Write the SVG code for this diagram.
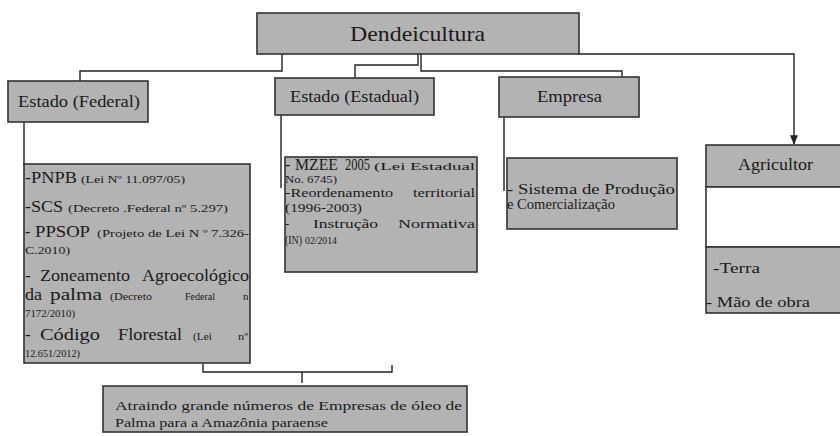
<svg xmlns="http://www.w3.org/2000/svg" width="840" height="436" viewBox="0 0 840 436" font-family="'Liberation Serif', 'DejaVu Serif', serif">
<defs>
<style>
.box{fill:#b3b3b3;stroke:#333;stroke-width:1.6}
.wbox{fill:#fff;stroke:#333;stroke-width:1.6}
.ln{fill:none;stroke:#222;stroke-width:1.4}
.t{font-family:'Liberation Serif','DejaVu Serif',serif;fill:#1a1a1a}
.s{font-size:11px}
</style>
<marker id="arr" viewBox="0 0 10 10" refX="9" refY="5" markerWidth="7" markerHeight="7" orient="auto">
<path d="M0,1 L10,5 L0,9 z" fill="#222"/>
</marker>
</defs>
<rect width="840" height="436" fill="#fff"/>
<g id="connectors">
<polyline class="ln" points="282,54 282,71 80,71 80,81"/>
<polyline class="ln" points="418,54 418,65 355,65 355,78"/>
<polyline class="ln" points="421,54 421,71 622,71 622,77"/>
<polyline class="ln" points="579,54 794,54 794,144" marker-end="url(#arr)"/>
<polyline class="ln" points="24,122 24,166"/>
<polyline class="ln" points="281,115 281,188"/>
<polyline class="ln" points="504,117 504,191"/>
<polyline class="ln" points="203,364 203,372 392,372 392,365"/>
<polyline class="ln" points="302,372 302,383"/>
</g>
<g id="dendeicultura">
<rect class="box" x="257" y="13" width="322" height="41"/>
<text class="t" x="350" y="41" font-size="22" textLength="135" lengthAdjust="spacingAndGlyphs">Dendeicultura</text>
</g>
<g id="estado-federal">
<rect class="box" x="8" y="81" width="140" height="41"/>
<text class="t" x="18" y="107" font-size="17" textLength="122" lengthAdjust="spacingAndGlyphs">Estado (Federal)</text>
</g>
<g id="estado-estadual">
<rect class="box" x="275" y="78" width="159" height="37"/>
<text class="t" x="290" y="102" font-size="17" textLength="129" lengthAdjust="spacingAndGlyphs">Estado (Estadual)</text>
</g>
<g id="empresa">
<rect class="box" x="499" y="77" width="140" height="40"/>
<text class="t" x="537" y="102" font-size="17" textLength="65" lengthAdjust="spacingAndGlyphs">Empresa</text>
</g>
<g id="agricultor">
<rect class="box" x="706" y="145" width="140" height="42"/>
<rect class="wbox" x="706" y="187" width="140" height="60"/>
<rect class="box" x="706" y="247" width="140" height="66"/>
<text class="t" x="738" y="170" font-size="16" textLength="75" lengthAdjust="spacingAndGlyphs">Agricultor</text>
<text class="t" x="713" y="273" font-size="15" textLength="47" lengthAdjust="spacingAndGlyphs">-Terra</text>
<text class="t" x="706" y="307" font-size="15" textLength="104" lengthAdjust="spacingAndGlyphs">- Mão de obra</text>
</g>
<g id="federal-list">
<rect class="box" x="24" y="164" width="226" height="199"/>
<text class="t" font-size="16" y="183"><tspan x="25" textLength="52" lengthAdjust="spacingAndGlyphs">-PNPB</tspan><tspan class="s" x="81" textLength="104" lengthAdjust="spacingAndGlyphs">(Lei Nº 11.097/05)</tspan></text>
<text class="t" font-size="16" y="212"><tspan x="25" textLength="38" lengthAdjust="spacingAndGlyphs">-SCS</tspan><tspan class="s" x="68" textLength="160" lengthAdjust="spacingAndGlyphs">(Decreto .Federal   nº 5.297)</tspan></text>
<text class="t" font-size="16" y="237"><tspan x="25">-</tspan><tspan x="35" textLength="55" lengthAdjust="spacingAndGlyphs">PPSOP</tspan><tspan class="s" x="97" textLength="152" lengthAdjust="spacingAndGlyphs">(Projeto de Lei N º 7.326-</tspan></text>
<text class="t s" x="25" y="254" textLength="45" lengthAdjust="spacingAndGlyphs">C.2010)</text>
<text class="t" font-size="17" y="281"><tspan x="25">-</tspan><tspan x="40" textLength="90" lengthAdjust="spacingAndGlyphs">Zoneamento</tspan><tspan x="142" textLength="107" lengthAdjust="spacingAndGlyphs">Agroecológico</tspan></text>
<text class="t" font-size="17" y="300"><tspan x="25" textLength="17" lengthAdjust="spacingAndGlyphs">da</tspan><tspan x="50" textLength="52" lengthAdjust="spacingAndGlyphs">palma</tspan><tspan class="s" x="110" textLength="42" lengthAdjust="spacingAndGlyphs">(Decreto</tspan><tspan class="s" x="185" textLength="30" lengthAdjust="spacingAndGlyphs">Federal</tspan><tspan class="s" x="243">n</tspan></text>
<text class="t s" x="25" y="317" textLength="50" lengthAdjust="spacingAndGlyphs">7172/2010)</text>
<text class="t" font-size="17" y="340"><tspan x="25">-</tspan><tspan x="40" textLength="60" lengthAdjust="spacingAndGlyphs">Código</tspan><tspan x="118" textLength="64" lengthAdjust="spacingAndGlyphs">Florestal</tspan><tspan class="s" x="193" textLength="19" lengthAdjust="spacingAndGlyphs">(Lei</tspan><tspan class="s" x="238" textLength="10" lengthAdjust="spacingAndGlyphs">nº</tspan></text>
<text class="t s" x="25" y="357" textLength="55" lengthAdjust="spacingAndGlyphs">12.651/2012)</text>
</g>
<g id="estadual-list">
<rect class="box" x="285" y="157" width="192" height="115"/>
<text class="t" font-size="16" y="170"><tspan x="285">-</tspan><tspan x="295" textLength="43" lengthAdjust="spacingAndGlyphs">MZEE</tspan><tspan x="345" textLength="25" lengthAdjust="spacingAndGlyphs">2005</tspan><tspan class="s" x="374" textLength="101" lengthAdjust="spacingAndGlyphs">(Lei Estadual</tspan></text>
<text class="t" font-size="10" x="285" y="183" textLength="52" lengthAdjust="spacingAndGlyphs">No. 6745)</text>
<text class="t" font-size="12" y="197"><tspan x="285" textLength="108" lengthAdjust="spacingAndGlyphs">-Reordenamento</tspan><tspan x="413" textLength="62" lengthAdjust="spacingAndGlyphs">territorial</tspan></text>
<text class="t" font-size="12" x="285" y="212" textLength="77" lengthAdjust="spacingAndGlyphs">(1996-2003)</text>
<text class="t" font-size="13" y="228"><tspan x="285">-</tspan><tspan x="313" textLength="65" lengthAdjust="spacingAndGlyphs">Instrução</tspan><tspan x="398" textLength="77" lengthAdjust="spacingAndGlyphs">Normativa</tspan></text>
<text class="t" font-size="13" y="244"><tspan x="285" textLength="17" lengthAdjust="spacingAndGlyphs">(IN)</tspan><tspan class="s" x="305" textLength="32" lengthAdjust="spacingAndGlyphs">02/2014</tspan></text>
</g>
<g id="empresa-list">
<rect class="box" x="507" y="158" width="170" height="71"/>
<text class="t" x="507" y="194" font-size="15" textLength="168" lengthAdjust="spacingAndGlyphs">- Sistema de Produção</text>
<text class="t" x="507" y="209" font-size="15" textLength="108" lengthAdjust="spacingAndGlyphs">e Comercialização</text>
</g>
<g id="resultado">
<rect class="box" x="103" y="386" width="364" height="46"/>
<text class="t" x="115" y="410" font-size="13" textLength="347" lengthAdjust="spacingAndGlyphs">Atraindo grande números de Empresas de óleo de</text>
<text class="t" x="115" y="427" font-size="13" textLength="213" lengthAdjust="spacingAndGlyphs">Palma para a Amazônia paraense</text>
</g>
</svg>
